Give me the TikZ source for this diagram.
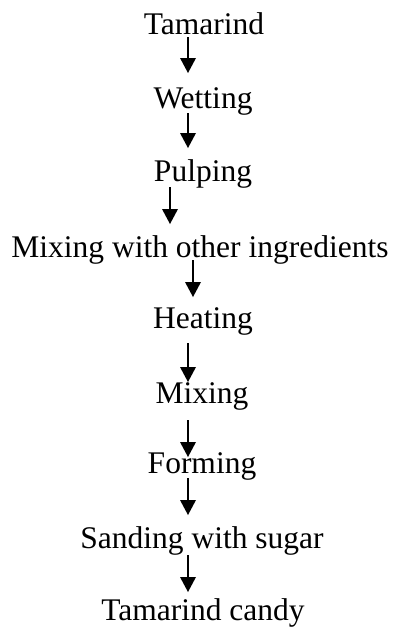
\documentclass[tikz,border=0pt]{standalone}
\usepackage{fontspec}
\setmainfont{Liberation Serif}
\begin{document}
\begin{tikzpicture}[x=1pt,y=1pt]
	\tikzstyle{every node}+=[inner sep=0pt,anchor=base,font=\fontsize{31.5}{36}\selectfont]
	\useasboundingbox (0,0) rectangle (396,-627);
	\draw (204,-34) node (tam) {Tamarind};
	\draw (203,-108) node (wet) {Wetting};
	\draw (203,-181) node (pul) {Pulping};
	\draw (200,-257) node (mwo) {Mixing with other ingredients};
	\draw (203,-328) node (hea) {Heating};
	\draw (202,-403) node (mix) {Mixing};
	\draw (202,-473) node (for) {Forming};
	\draw (202,-548) node (san) {Sanding with sugar};
	\draw (203,-620) node (can) {Tamarind candy};
	\draw [black,line width=1.6] ([xshift=-16,yshift=-3]tam.base) -- ([xshift=-15,yshift=50]wet.base);
	\fill [black] ([xshift=-15,yshift=35]wet.base) -- ++(-8,15) -- ++(16,0) -- cycle;
	\draw [black,line width=1.6] ([xshift=-15,yshift=-5]wet.base) -- ([xshift=-15,yshift=48]pul.base);
	\fill [black] ([xshift=-15,yshift=33]pul.base) -- ++(-8,15) -- ++(16,0) -- cycle;
	\draw [black,line width=1.6] ([xshift=-33,yshift=-6]pul.base) -- ([xshift=-30,yshift=48]mwo.base);
	\fill [black] ([xshift=-30,yshift=33]mwo.base) -- ++(-8,15) -- ++(16,0) -- cycle;
	\draw [black,line width=1.6] ([xshift=-7,yshift=-3]mwo.base) -- ([xshift=-10,yshift=46]hea.base);
	\fill [black] ([xshift=-10,yshift=31]hea.base) -- ++(-8,15) -- ++(16,0) -- cycle;
	\draw [black,line width=1.6] ([xshift=-15,yshift=-15]hea.base) -- ([xshift=-14,yshift=36]mix.base);
	\fill [black] ([xshift=-14,yshift=21]mix.base) -- ++(-8,15) -- ++(16,0) -- cycle;
	\draw [black,line width=1.6] ([xshift=-14,yshift=-17]mix.base) -- ([xshift=-14,yshift=31]for.base);
	\fill [black] ([xshift=-14,yshift=16]for.base) -- ++(-8,15) -- ++(16,0) -- cycle;
	\draw [black,line width=1.6] ([xshift=-14,yshift=-5]for.base) -- ([xshift=-14,yshift=48]san.base);
	\fill [black] ([xshift=-14,yshift=33]san.base) -- ++(-8,15) -- ++(16,0) -- cycle;
	\draw [black,line width=1.6] ([xshift=-14,yshift=-7]san.base) -- ([xshift=-15,yshift=43]can.base);
	\fill [black] ([xshift=-15,yshift=28]can.base) -- ++(-8,15) -- ++(16,0) -- cycle;
\end{tikzpicture}
\end{document}
